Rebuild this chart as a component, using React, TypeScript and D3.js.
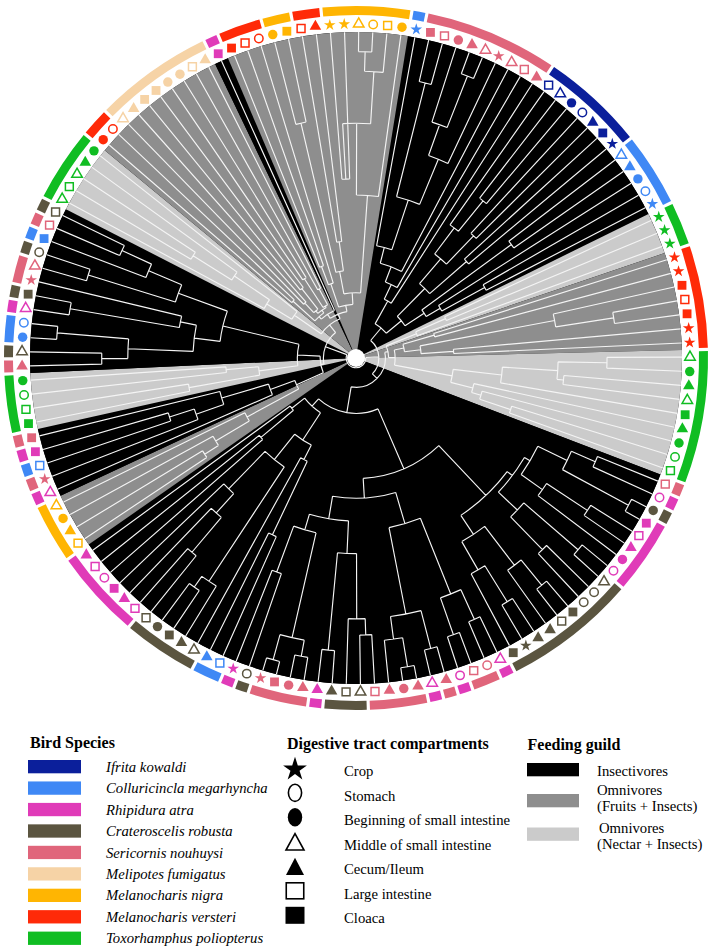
import React from "react";
import * as d3 from "d3";

// ---------------- data ----------------
const speciesCodes = ["IK", "CM", "RA", "CR", "SN", "MF", "MN", "MV", "TP"];
const speciesNames = [
  "Ifrita kowaldi",
  "Colluricincla megarhyncha",
  "Rhipidura atra",
  "Crateroscelis robusta",
  "Sericornis nouhuysi",
  "Melipotes fumigatus",
  "Melanocharis nigra",
  "Melanocharis versteri",
  "Toxorhamphus poliopterus",
];
const speciesGuild = ["ins", "ins", "ins", "ins", "ins", "fruit", "fruit", "fruit", "nectar"];

const compartmentCodes = ["cr", "st", "bs", "ms", "ce", "li", "cl"];
const compartmentNames = [
  "Crop",
  "Stomach",
  "Beginning of small intestine",
  "Middle of small intestine",
  "Cecum/Ileum",
  "Large intestine",
  "Cloaca",
];

const guildCodes = ["ins", "fruit", "nectar"];
const guildLabels = [["Insectivores"], ["Omnivores", "(Fruits + Insects)"], ["Omnivores", "(Nectar + Insects)"]];

// leaves 1..145, clockwise from the top
const leafSpecies = [
  "MN", "MN", "MN", "MN", "MN", "MN",
  "CM",
  "SN", "SN", "SN", "SN", "SN", "SN", "SN", "SN", "SN",
  "IK", "IK", "IK", "IK", "IK", "IK", "IK",
  "CM", "CM", "CM", "CM", "CM",
  "TP", "TP", "TP",
  "MV", "MV", "MV", "MV", "MV", "MV", "MV",
  "TP", "TP", "TP", "TP", "TP", "TP", "TP", "TP", "TP",
  "SN", "RA", "CR",
  "RA", "RA", "RA", "RA", "RA",
  "CR", "CR", "CR", "CR", "CR", "CR", "CR", "CR", "CR",
  "RA", "SN", "SN", "RA", "SN", "RA",
  "SN", "SN", "SN", "SN",
  "CR", "CR", "CR",
  "RA",
  "SN", "SN", "SN", "SN",
  "CR", "RA",
  "CM", "CM",
  "CR", "CR", "CR", "CR", "CR",
  "RA", "RA", "RA", "RA", "RA", "RA",
  "MN", "MN", "MN", "MN",
  "RA", "SN", "CM", "RA", "SN",
  "TP", "TP", "TP", "TP",
  "SN", "CR", "CM", "CM", "RA", "CR", "SN", "SN", "CR", "CM", "SN", "CR",
  "TP", "TP", "TP", "TP", "TP",
  "MV", "MV",
  "MF", "MF", "MF", "MF", "MF", "MF", "MF", "MF",
  "RA",
  "MV", "MV", "MV",
  "MN", "MN",
  "MV", "MV",
];
const leafCompartment = [
  "cr", "cr", "ms", "st", "li", "bs",
  "cr",
  "cl", "li", "bs", "ce", "ms", "cr", "ms", "li", "ce",
  "li", "ms", "bs", "st", "ce", "cl", "cr",
  "ms", "ce", "bs", "st", "cr",
  "cr", "cr", "cr",
  "cr", "cr", "cl", "li", "cl", "cr", "cr",
  "ms", "bs", "ce", "ms", "cl", "ce", "bs", "st", "li",
  "li", "st", "bs",
  "cl", "li", "ce", "bs", "st",
  "ms", "st", "st", "cl", "li", "ce", "ce", "cr", "cl",
  "ms", "st", "li", "st", "ce", "ms",
  "ce", "bs", "ce", "li",
  "ms", "li", "ce",
  "ce",
  "ce", "bs", "cl", "cr",
  "st", "cr",
  "li", "ce",
  "ms", "ce", "cl", "bs", "li",
  "li", "ce", "cl", "st", "li", "ce",
  "li", "ce", "bs", "ms",
  "ms", "cr", "li", "cl", "cl",
  "cl", "li", "st", "bs",
  "ce", "ms", "bs", "st", "ms", "cl", "cr", "ms", "st", "cl", "li", "li",
  "ms", "li", "ms", "ce", "bs",
  "bs", "st",
  "ms", "ce", "cl", "cl", "bs", "bs", "li", "ce",
  "cl",
  "cl", "li", "st",
  "bs", "cl",
  "li", "ce",
];

// dendrogram topology: leaves are leaf numbers, "(...)h" = internal node at relative radius h
const cladeB1 = "((((7,((8,9)0.87,(((11,12)0.93,10)0.76,13)0.66)0.51)0.35,14)0.3,15)0.25,16)0.2";
const cladeB2 = "((((17,(18,19)0.62)0.5,(20,21)0.52)0.4,(22,23)0.45)0.3,((24,25)0.59,(26,(27,28)0.45)0.3)0.25)0.18";
const cladeC1 = "((29,30)0.3,31)0.2";
const cladeC2 = "((32,33)0.25,(((35,36)0.8,34)0.62,(37,38)0.3)0.2)0.15";
const cladeC3 = "((((39,40)0.77,(41,42)0.64)0.62,43)0.45,(44,(45,(46,47)0.5)0.4)0.37)0.3";
const cladeD1 = "((((48,49)0.8,(50,51)0.95)0.72,((52,53)0.85,54)0.7)0.62,((55,56)0.9,(57,58)0.82)0.68)0.6";
const cladeD2 = "(((59,60)0.9,61)0.8,((62,63)0.88,64)0.75)0.65";
const cladeD3 = "(((65,66)0.88,(67,68)0.9)0.78,((69,70)0.92,((71,72)0.96,73)0.87)0.8)0.53";
const cladeD4 = "((((74,75)0.85,76)0.8,(77,78)0.9)0.6,(((79,80)0.93,(81,82)0.96)0.88,(83,84)0.7)0.55)0.5";
const cladeD5 = "((((85,86)0.6,87)0.35,((88,(89,90)0.86)0.82,(((91,92)0.78,93)0.64,94)0.56)0.4)0.3,((95,96)0.38,97)0.25)0.2";
const cladeE1 = "(((98,99)0.55,100)0.5,101)0.38";
const cladeE2 = "(102,((103,(104,105)0.6)0.52,106)0.43)0.28";
const cladeE3 = "((107,108)0.52,(109,110)0.4)0.3";
const cladeE4 = "((((111,112)0.78,(113,114)0.92)0.7,((115,116)0.89,117)0.55)0.5,((118,119)0.86,((121,122)0.79,120)0.69)0.58)0.42";
const cladeA1 = "((((124,125)0.59,126)0.45,123)0.32,127)0.23";
const cladeA2 = "(((130,131)0.23,(132,133)0.27)0.19,((134,135)0.29,(136,137)0.24)0.185)0.18";
const cladeA3 = "(((1,2)0.55,((3,4)0.94,5)0.88)0.72,6)0.5";

const cladeB = `(${cladeB1},${cladeB2})0.12`;
const cladeC = `(${cladeC1},(${cladeC2},${cladeC3})0.12)0.1`;
const cladeD = `(((${cladeD1},${cladeD2})0.58,(${cladeD3},${cladeD4})0.43)0.37,${cladeD5})0.17`;
const cladeE = `((${cladeE1},${cladeE2})0.2,(${cladeE3},${cladeE4})0.18)0.11`;
const cladeA = `(${cladeA1},((((128,129)0.26,${cladeA2})0.17,138)0.16,(((139,140)0.3,141)0.24,(((142,143)0.74,(144,145)0.36)0.27,${cladeA3})0.2)0.165)0.145)0.13`;
const treeNewick = `((${cladeB},(${cladeC},${cladeD})0.09)0.07,(${cladeE},${cladeA})0.1)0.03`;

// ---------------- styles ----------------
const speciesColors = ["#0b1f9b", "#3f88f5", "#e03bb8", "#5b5540", "#e0657b", "#f6d3a6", "#ffb502", "#ff2a08", "#10bd22"];
const guildColors = ["#000000", "#8e8e8e", "#cbcbcb"];
const FONT = '"Liberation Serif", "Times New Roman", Times, serif';

type TNode = { id?: number; r: number; children?: TNode[]; a?: number; a0?: number; a1?: number };

function parseTree(s: string): TNode {
  let i = 0;
  const num = () => {
    const j = i;
    while (i < s.length && /[0-9.]/.test(s[i])) i++;
    return parseFloat(s.slice(j, i));
  };
  const node = (): TNode => {
    if (s[i] === "(") {
      i++;
      const children: TNode[] = [node()];
      while (s[i] === ",") {
        i++;
        children.push(node());
      }
      i++;
      return { r: num(), children };
    }
    return { id: num(), r: 1 };
  };
  return node();
}

const shapeOf: Record<string, { type: any; filled: boolean; size: number }> = {
  cr: { type: d3.symbolStar, filled: true, size: 42 },
  st: { type: d3.symbolCircle, filled: false, size: 56 },
  bs: { type: d3.symbolCircle, filled: true, size: 70 },
  ms: { type: d3.symbolTriangle, filled: false, size: 48 },
  ce: { type: d3.symbolTriangle, filled: true, size: 58 },
  li: { type: d3.symbolSquare, filled: false, size: 62 },
  cl: { type: d3.symbolSquare, filled: true, size: 78 },
};

export default function App() {
  const cx = 356, cy = 358, R = 326;
  const rSym = 334, ringIn = 343, ringOut = 352;
  const n = leafSpecies.length;
  const firstLeaf = 7;
  const step = (2 * Math.PI) / n;
  const start = (-4.5 * Math.PI) / 180 + (firstLeaf - 1) * step;
  const angle = d3.scaleLinear().domain([0, n]).range([start, start + 2 * Math.PI]);
  const posOf = (id: number) => (id - firstLeaf + n) % n;
  const rScale = d3.scaleLinear().domain([0, 1]).range([0, R]);
  const pt = (r: number, a: number) => [r * Math.sin(a), -r * Math.cos(a)];

  const sIdx = (code: string) => speciesCodes.indexOf(code);
  const order = d3.range(n).map((p) => ((p + firstLeaf - 1) % n) + 1);

  const makeRuns = (keyOf: (id: number) => string) => {
    const runs: { key: string; p0: number; p1: number }[] = [];
    order.forEach((id, p) => {
      const k = keyOf(id);
      const last = runs[runs.length - 1];
      if (last && last.key === k) last.p1 = p;
      else runs.push({ key: k, p0: p, p1: p });
    });
    return runs;
  };
  const guildRuns = makeRuns((id) => speciesGuild[sIdx(leafSpecies[id - 1])]);
  const speciesRuns = makeRuns((id) => leafSpecies[id - 1]);

  const wedge = d3.arc<any>().innerRadius(0).outerRadius(R);
  const ring = d3.arc<any>().innerRadius(ringIn).outerRadius(ringOut);
  const pad = 1.6 / ringOut;

  const root = d3.hierarchy<TNode>(parseTree(treeNewick));
  root.eachAfter((nd) => {
    const d = nd.data;
    if (!nd.children) {
      d.a = angle(posOf(d.id as number));
      d.a0 = d.a1 = d.a;
    } else {
      const as = nd.children.map((c) => c.data.a as number);
      d.a0 = d3.min(as) as number;
      d.a1 = d3.max(as) as number;
      d.a = (d.a0 + d.a1) / 2;
    }
  });
  const tp = d3.path();
  root.each((nd) => {
    const d = nd.data;
    const rr = rScale(d.r);
    if (nd.parent) {
      const [x0, y0] = pt(rScale(nd.parent.data.r), d.a as number);
      const [x1, y1] = pt(rr, d.a as number);
      tp.moveTo(x0, y0);
      tp.lineTo(x1, y1);
    }
    if (nd.children) {
      const [x0, y0] = pt(rr, d.a0 as number);
      tp.moveTo(x0, y0);
      tp.arc(0, 0, rr, (d.a0 as number) - Math.PI / 2, (d.a1 as number) - Math.PI / 2);
    }
  });

  const spY0 = 760, spDY = 21.45;
  const cpY0 = 768.3, cpDY = 24.5;

  const legendSymbol = (code: string, x: number, y: number) => {
    const filled = shapeOf[code].filled;
    const fill = filled ? "#000" : "#fff";
    const sw = filled ? 0 : 1.6;
    if (code === "cr")
      return <path d={d3.symbol().type(d3.symbolStar).size(175)() as string} transform={`translate(${x},${y + 1})`} fill="#000" />;
    if (code === "st" || code === "bs")
      return <ellipse cx={x} cy={y} rx={filled ? 7.2 : 6.6} ry={filled ? 9.2 : 8.6} fill={fill} stroke="#000" strokeWidth={sw} />;
    if (code === "ms" || code === "ce") {
      const h = filled ? 8.6 : 8.2;
      return <path d={`M${x},${y - h}L${x + 9},${y + h}L${x - 9},${y + h}Z`} fill={fill} stroke="#000" strokeWidth={sw} strokeLinejoin="miter" />;
    }
    const w = filled ? 19 : 17.5, hh = filled ? 17 : 16;
    return <rect x={x - w / 2} y={y - hh / 2} width={w} height={hh} fill={fill} stroke="#000" strokeWidth={sw} />;
  };

  return (
    <svg width={714} height={949} style={{ position: "absolute", left: 0, top: 0, background: "#fff" }} fontFamily={FONT}>
      <rect width={714} height={949} fill="#fff" />
      <g transform={`translate(${cx},${cy})`}>
        <circle r={R} fill={guildColors[0]} />
        {guildRuns.map((run, i) => (
          <path
            key={"g" + i}
            d={wedge({ startAngle: angle(run.p0) - step / 2, endAngle: angle(run.p1) + step / 2 }) as string}
            fill={guildColors[guildCodes.indexOf(run.key)]}
          />
        ))}
        <path d={tp.toString()} fill="none" stroke="#f4f4f4" strokeWidth={1.15} />
        <circle r={9} fill="#fff" />
        {speciesRuns.map((run, i) => (
          <path
            key={"s" + i}
            d={ring({ startAngle: angle(run.p0) - step / 2 + pad, endAngle: angle(run.p1) + step / 2 - pad }) as string}
            fill={speciesColors[sIdx(run.key)]}
          />
        ))}
        {order.map((id, p) => {
          const a = angle(p);
          const [x, y] = pt(rSym, a);
          const sh = shapeOf[leafCompartment[id - 1]];
          const col = speciesColors[sIdx(leafSpecies[id - 1])];
          return (
            <path
              key={"m" + id}
              d={d3.symbol().type(sh.type).size(sh.size)() as string}
              transform={`translate(${x},${y})`}
              fill={sh.filled ? col : "#fff"}
              stroke={sh.filled ? "none" : col}
              strokeWidth={1.5}
            />
          );
        })}
      </g>

      <text x={30} y={748} fontSize={16} fontWeight="bold">Bird Species</text>
      {speciesNames.map((name, k) => (
        <g key={"ls" + k}>
          <rect x={28} y={spY0 + k * spDY} width={53} height={13.3} fill={speciesColors[k]} />
          <text x={106} y={spY0 + k * spDY + 6.7 + 5} fontSize={14.7} fontStyle="italic">{name}</text>
        </g>
      ))}

      <text x={287} y={748.5} fontSize={16} fontWeight="bold">Digestive tract compartments</text>
      {compartmentNames.map((name, k) => (
        <g key={"lc" + k}>
          {legendSymbol(compartmentCodes[k], 295, cpY0 + k * cpDY)}
          <text x={344} y={cpY0 + k * cpDY + 2.7 + 5} fontSize={14.7}>{name}</text>
        </g>
      ))}

      <text x={527.5} y={749.5} fontSize={16} fontWeight="bold">Feeding guild</text>
      {guildLabels.map((lines, k) => {
        const sy = [763, 794, 827.5][k];
        const ty = [[776], [795, 811], [833, 849]][k];
        return (
          <g key={"lg" + k}>
            <rect x={527} y={sy} width={52} height={13.3} fill={guildColors[k]} />
            {lines.map((t, j) => (
              <text key={j} x={k === 2 && j === 0 ? 599 : 597} y={ty[j]} fontSize={14.7}>{t}</text>
            ))}
          </g>
        );
      })}
    </svg>
  );
}
